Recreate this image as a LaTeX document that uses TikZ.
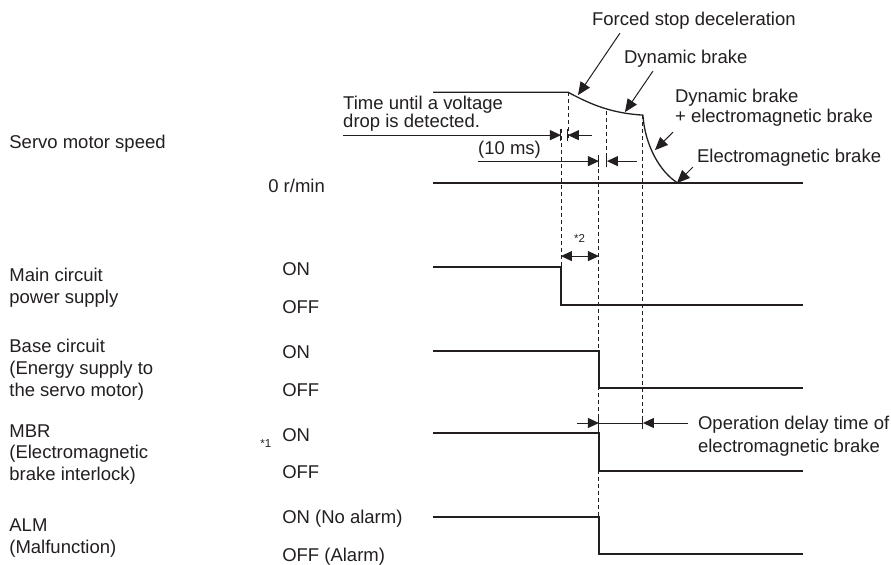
\documentclass[tikz,border=0pt]{standalone}
\usepackage{fontspec}
\setmainfont{Liberation Sans}
\usetikzlibrary{arrows.meta}
\definecolor{ink}{RGB}{35,31,32}
\begin{document}
\begin{tikzpicture}[x=1pt,y=-1pt,
  every path/.style={draw=ink},
  sig/.style={line width=1.3pt},
  dsh/.style={line width=0.9pt, dash pattern=on 4pt off 3pt},
  thin/.style={line width=1pt},
  tip/.style={thin,-{Triangle[length=11pt,width=10pt]}},
  bigtip/.style={thin,-{Triangle[length=13pt,width=11pt]}},
  dtip/.style={thin,{Triangle[length=11pt,width=10pt]}-{Triangle[length=11pt,width=10pt]}},
  lbl/.style={font=\fontsize{18.5}{22}\selectfont, text=ink, inner sep=0pt, anchor=base west},
  lble/.style={lbl, anchor=base east},
  note/.style={font=\fontsize{11.5}{13}\selectfont, text=ink, inner sep=0pt, anchor=base west}]
\useasboundingbox (0,0) rectangle (891,564);
\fill[white] (0,0) rectangle (891,564);

% ---------- left column labels
\node[lbl] (servo) at (9,148) {Servo motor speed};
\node[lbl] (main1) at (9,281) {Main circuit};
\node[lbl] (main2) at (9,303) {power supply};
\node[lbl] (base1) at (9,352) {Base circuit};
\node[lbl] (base2) at (9,374) {(Energy supply to};
\node[lbl] (base3) at (9,396) {the servo motor)};
\node[lbl] (mbr1) at (9,437) {MBR};
\node[lbl] (mbr2) at (9,459) {(Electromagnetic};
\node[lbl] (mbr3) at (9,481) {brake interlock)};
\node[lbl] (alm1) at (9,532) {ALM};
\node[lbl] (alm2) at (9,554) {(Malfunction)};

% ---------- level labels
\node[lble] (zero) at (325,192) {0 r/min};
\node[lbl] (on1) at (282,275) {ON};
\node[lbl] (off1) at (282,313) {OFF};
\node[lbl] (on2) at (282,358) {ON};
\node[lbl] (off2) at (282,396) {OFF};
\node[lbl] (on3) at (282,441) {ON};
\node[lbl] (off3) at (282,479) {OFF};
\node[lbl] (on4) at (282,524) {ON (No alarm)};
\node[lbl] (off4) at (282,562) {OFF (Alarm)};
\node[note] (star1) at (260,447) {*1};
\node[note] (star2) at (574,242) {*2};

% ---------- annotation texts
\node[lbl] (forced) at (592,25) {Forced stop deceleration};
\node[lbl] (dyn) at (624,63) {Dynamic brake};
\node[lbl] (dynem1) at (675,102) {Dynamic brake};
\node[lbl] (dynem2) at (675,122) {+ electromagnetic brake};
\node[lbl] (em) at (697,162) {Electromagnetic brake};
\node[lbl] (volt1) at (343,109.5) {Time until a voltage};
\node[lbl] (volt2) at (343,127.5) {drop is detected.};
\node[lbl] (tenms) at (478,154) {(10 ms)};
\node[lbl] (delay1) at (698,429) {Operation delay time of};
\node[lbl] (delay2) at (698,452) {electromagnetic brake};

% ---------- key coordinates
\coordinate (s0) at (433,92);
\coordinate (s1) at (568,92);
\coordinate (s2) at (643,115);
\coordinate (s3) at (678,183);
\coordinate (z0) at (433,183);
\coordinate (z1) at (803,183);
\coordinate (dbt) at (607,111);

% ---------- dashed guide lines
\draw[dsh] (568,92) -- (568,141);
\draw[dsh] (561,129) -- (561,267);
\draw[dsh] (dbt) -- (607,167);
\draw[dsh] (599,155) -- (599,554);
\draw[dsh] (s2) -- (643,429);

% ---------- speed waveform
\draw[sig] (s0) -- (s1) .. controls (592,105) and (612,113) .. (s2)
  .. controls (645,145) and (660,172) .. (s3);
\draw[sig] (z0) -- (z1);

% ---------- signals
\draw[sig] (433,267) -- (561,267) -- (561,305) -- (803,305);
\draw[sig] (433,351) -- (599,351) -- (599,388) -- (803,388);
\draw[sig] (433,433) -- (599,433) -- (599,471) -- (803,471);
\draw[sig] (433,517) -- (599,517) -- (599,554) -- (803,554);

% ---------- time measurement arrows
\coordinate (a1l) at (343,135);
\coordinate (a1a) at (561,135);
\coordinate (a1b) at (568,135);
\coordinate (a1r) at (592,135);
\draw[tip] (a1l) -- (a1a);
\draw[tip] (a1r) -- (a1b);
\draw[thin] (561,129) -- (561,141) (568,129) -- (568,141);

\coordinate (a2l) at (478,161);
\coordinate (a2a) at (599,161);
\coordinate (a2b) at (607,161);
\coordinate (a2r) at (637,161);
\draw[tip] (a2l) -- (a2a);
\draw[tip] (a2r) -- (a2b);
\draw[thin] (599,155) -- (599,167) (607,155) -- (607,167);

\draw[dtip] (561,256) -- (599,256);

\coordinate (a3l) at (577,423);
\coordinate (a3a) at (599,423);
\coordinate (a3b) at (643,423);
\coordinate (a3r) at (688,423);
\draw[tip] (a3l) -- (a3a);
\draw[thin] (a3a) -- (a3b);
\draw[tip] (a3r) -- (a3b);
\draw[thin] (599,417) -- (599,429) (643,417) -- (643,429);

% ---------- label pointers
\draw[bigtip] (620,33) -- (578,95);
\draw[bigtip] (653,71) -- (625,112);
\draw[bigtip] (673,132) -- (655,150);
\draw[bigtip] (693,167) -- (677,183);
\end{tikzpicture}
\end{document}
